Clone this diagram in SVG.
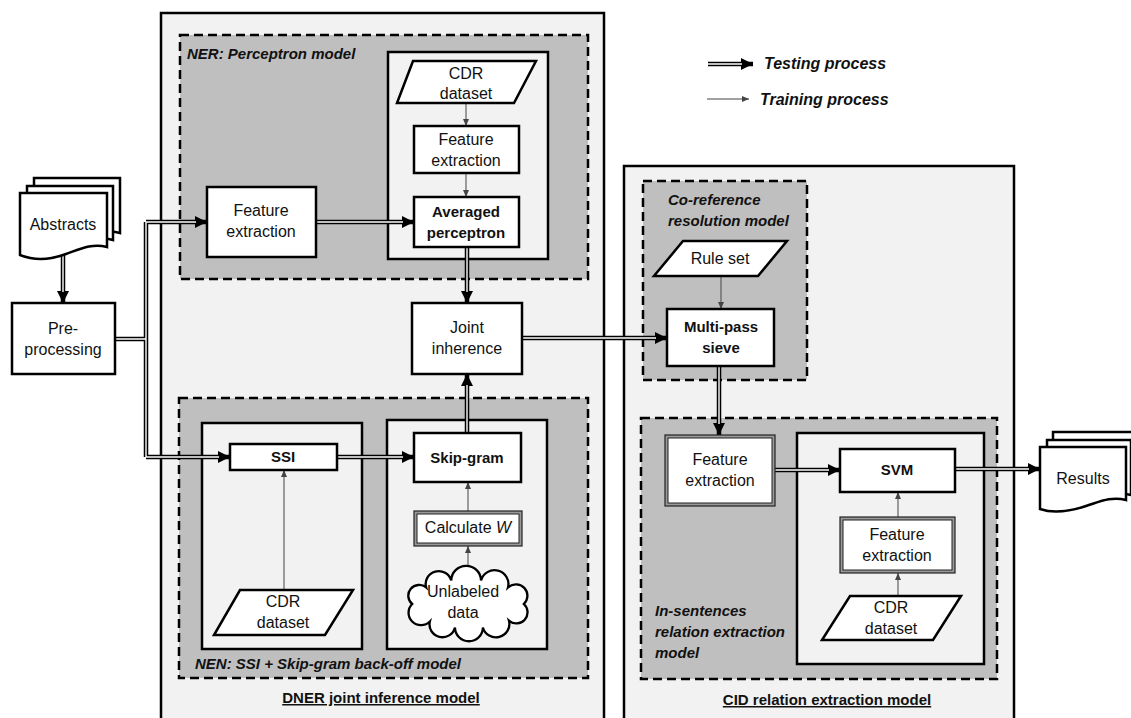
<svg xmlns="http://www.w3.org/2000/svg" width="1131" height="718" viewBox="0 0 1131 718">
<defs>
<style>
.t{font-family:"Liberation Sans",Arial,sans-serif;font-size:16px;fill:#111;text-anchor:middle}
.b{font-weight:bold;font-size:15px}
.bi{font-family:"Liberation Sans",Arial,sans-serif;font-weight:bold;font-style:italic;font-size:15px;fill:#111}
.u{font-family:"Liberation Sans",Arial,sans-serif;font-weight:bold;font-size:15px;fill:#111;text-anchor:middle;text-decoration:underline}
.node{fill:#fff;stroke:#000;stroke-width:2.5}
.frame{fill:#f2f2f2;stroke:#000;stroke-width:2.5}
.dash{fill:#bfbfbf;stroke:#000;stroke-width:2.5;stroke-dasharray:9 5}
.dbl{fill:none;stroke:#000;stroke-width:4.5}
.dblw{fill:none;stroke:#fff;stroke-width:1.4}
.thin{fill:none;stroke:#444;stroke-width:1;marker-end:url(#ta)}
.dd{fill:#999;stroke:#222;stroke-width:1.2}
.ddi{fill:#fff;stroke:#222;stroke-width:1}
</style>
<marker id="da" markerUnits="userSpaceOnUse" markerWidth="12" markerHeight="12" refX="12" refY="6" orient="auto"><path d="M0,0 L12,6 L0,12 z" fill="#000"/></marker>
<marker id="ta" markerUnits="userSpaceOnUse" markerWidth="7" markerHeight="6" refX="7" refY="3" orient="auto"><path d="M0,0 L7,3 L0,6 z" fill="#444"/></marker>
</defs>

<!-- frames -->
<g id="dner-frame">
<rect class="frame" x="161" y="13" width="443" height="720"/>
<text class="u" x="381" y="703">DNER joint inference model</text>
</g>
<g id="cid-frame">
<rect class="frame" x="624" y="166" width="390" height="570"/>
<text class="u" x="827" y="705">CID relation extraction model</text>
</g>

<g id="ner">
<rect class="dash" x="180" y="35" width="408" height="244"/>
<text class="bi" x="187" y="59">NER: Perceptron model</text>
<rect class="frame" x="388" y="52" width="160" height="207"/>
</g>

<g id="nen">
<rect class="dash" x="179" y="398" width="409" height="280"/>
<text class="bi" x="195" y="669">NEN: SSI + Skip-gram back-off model</text>
<rect class="frame" x="202" y="423" width="160" height="226"/>
<rect class="frame" x="387" y="420" width="160" height="229"/>
</g>

<g id="coref">
<rect class="dash" x="643" y="181" width="164" height="199"/>
<text class="bi" x="668" y="205">Co-reference</text>
<text class="bi" x="668" y="226">resolution model</text>
</g>

<g id="insent">
<rect class="dash" x="641" y="418" width="356" height="261"/>
<text class="bi" x="655" y="616">In-sentences</text>
<text class="bi" x="655" y="637">relation extraction</text>
<text class="bi" x="655" y="658">model</text>
<rect class="frame" x="797" y="433" width="187" height="231"/>
</g>

<!-- connectors -->
<g id="connectors">
<g>
<path class="dbl" d="M63,255 V303" marker-end="url(#da)"/>
<path class="dbl" d="M115,339 H146 M146,222 V457"/>
<path class="dbl" d="M146,222 H207" marker-end="url(#da)"/>
<path class="dbl" d="M146,457 H230" marker-end="url(#da)"/>
<path class="dbl" d="M316,222 H414" marker-end="url(#da)"/>
<path class="dbl" d="M467,247 V303" marker-end="url(#da)"/>
<path class="dbl" d="M467,433 V374" marker-end="url(#da)"/>
<path class="dbl" d="M337,457 H414" marker-end="url(#da)"/>
<path class="dbl" d="M522,338 H667" marker-end="url(#da)"/>
<path class="dbl" d="M719,366 V435" marker-end="url(#da)"/>
<path class="dbl" d="M775,470 H840" marker-end="url(#da)"/>
<path class="dbl" d="M955,469 H1040" marker-end="url(#da)"/>
<path class="dbl" d="M708,64 H753" marker-end="url(#da)"/>
</g>
<g>
<path class="dblw" d="M63,255 V292"/>
<path class="dblw" d="M115,339 H146 M146,222 V457"/>
<path class="dblw" d="M146,222 H196"/>
<path class="dblw" d="M146,457 H219"/>
<path class="dblw" d="M316,222 H403"/>
<path class="dblw" d="M467,247 V292"/>
<path class="dblw" d="M467,433 V385"/>
<path class="dblw" d="M337,457 H403"/>
<path class="dblw" d="M522,338 H656"/>
<path class="dblw" d="M719,366 V424"/>
<path class="dblw" d="M775,470 H829"/>
<path class="dblw" d="M955,469 H1029"/>
<path class="dblw" d="M708,64 H742"/>
</g>
<path class="thin" d="M466,103 V126"/>
<path class="thin" d="M466,173 V197"/>
<path class="thin" d="M721,276 V309"/>
<path class="thin" d="M284,590 V470"/>
<path class="thin" d="M468,570 V546"/>
<path class="thin" d="M468,511 V482"/>
<path class="thin" d="M898,596 V573"/>
<path class="thin" d="M898,517 V492"/>
<path class="thin" d="M707,99 H749"/>
</g>

<g id="legend">
<text class="bi" x="764" y="69" style="font-size:16px">Testing process</text>
<text class="bi" x="760" y="105" style="font-size:16px">Training process</text>
</g>

<g id="abstracts">
<path class="node" d="M34,178 H120 V233 C105,229 95,236 85,239 C70,244 50,246 34,240 Z" stroke-width="2"/>
<path class="node" d="M27,186 H113 V240 C98,236 88,243 78,246 C63,251 43,253 27,247 Z" stroke-width="2"/>
<path class="node" d="M20,193 H107 V247 C92,243 80,249 66,254 C50,260 35,261 20,255 Z" stroke-width="2"/>
<text class="t" x="63" y="230">Abstracts</text>
</g>

<g id="preprocessing">
<rect class="node" x="12" y="303" width="103" height="71"/>
<text class="t" x="63" y="334">Pre-</text>
<text class="t" x="63" y="355">processing</text>
</g>

<g id="ner-fe">
<rect class="node" x="207" y="187" width="109" height="70"/>
<text class="t" x="261" y="216">Feature</text>
<text class="t" x="261" y="237">extraction</text>
</g>

<g id="ner-cdr">
<path class="node" d="M413,61 H536 L514,103 H397 Z"/>
<text class="t" x="466" y="79">CDR</text>
<text class="t" x="466" y="99">dataset</text>
</g>

<g id="ner-fe2">
<rect class="node" x="414" y="126" width="105" height="47"/>
<text class="t" x="466" y="145">Feature</text>
<text class="t" x="466" y="166">extraction</text>
</g>

<g id="averaged-perceptron">
<rect class="node" x="414" y="197" width="105" height="50"/>
<text class="t b" x="466" y="217">Averaged</text>
<text class="t b" x="466" y="238">perceptron</text>
</g>

<g id="joint">
<rect class="node" x="412" y="303" width="110" height="71"/>
<text class="t" x="467" y="333">Joint</text>
<text class="t" x="467" y="354">inherence</text>
</g>

<g id="ssi">
<rect class="node" x="230" y="444" width="107" height="26"/>
<text class="t b" x="283" y="462">SSI</text>
</g>

<g id="nen-cdr">
<path class="node" d="M240,590 H353 L325,635 H214 Z"/>
<text class="t" x="283" y="607">CDR</text>
<text class="t" x="283" y="628">dataset</text>
</g>

<g id="skipgram">
<rect class="node" x="414" y="433" width="107" height="49"/>
<text class="t b" x="467" y="463">Skip-gram</text>
</g>

<g id="calcw">
<rect class="dd" x="414" y="511" width="108" height="35"/>
<rect class="ddi" x="417" y="514" width="102" height="29"/>
<text class="t" x="468" y="533">Calculate <tspan font-style="italic">W</tspan></text>
</g>

<g id="unlabeled">
<path class="node" stroke-width="2" transform="translate(468 604) scale(0.93 0.92) translate(-468 -604)" d="M528,604 A1,1 0 0 1 512,622 A1,1 0 0 1 484,629.5 A1,1 0 0 1 454,629.5 A1,1 0 0 1 427,623 A1,1 0 0 1 408,604 A1,1 0 0 1 423,586 A1,1 0 0 1 450,578.5 A1,1 0 0 1 482,578.5 A1,1 0 0 1 511,586 A1,1 0 0 1 528,604 Z"/>
<text class="t" x="463" y="597">Unlabeled</text>
<text class="t" x="463" y="618">data</text>
</g>

<g id="ruleset">
<path class="node" d="M683,241 H787 L758,276 H654 Z"/>
<text class="t" x="720" y="264">Rule set</text>
</g>

<g id="multipass">
<rect class="node" x="667" y="309" width="107" height="57"/>
<text class="t b" x="721" y="332">Multi-pass</text>
<text class="t b" x="721" y="353">sieve</text>
</g>

<g id="cid-fe">
<rect class="dd" x="665" y="435" width="110" height="71"/>
<rect class="ddi" x="668" y="438" width="104" height="65"/>
<text class="t" x="720" y="465">Feature</text>
<text class="t" x="720" y="486">extraction</text>
</g>

<g id="svm">
<rect class="node" x="840" y="449" width="115" height="43"/>
<text class="t b" x="897" y="475">SVM</text>
</g>

<g id="cid-fe2">
<rect class="dd" x="840" y="517" width="115" height="56"/>
<rect class="ddi" x="843" y="520" width="109" height="50"/>
<text class="t" x="897" y="540">Feature</text>
<text class="t" x="897" y="561">extraction</text>
</g>

<g id="cid-cdr">
<path class="node" d="M850,596 H961 L933,640 H822 Z"/>
<text class="t" x="891" y="613">CDR</text>
<text class="t" x="891" y="634">dataset</text>
</g>

<g id="results">
<path class="node" stroke-width="2" d="M1053,432 H1140 V490 C1125,486 1113,492 1100,496 C1085,501 1068,503 1053,498 Z"/>
<path class="node" stroke-width="2" d="M1047,440 H1131 V495 C1116,491 1105,497 1092,501 C1077,506 1060,508 1047,503 Z"/>
<path class="node" stroke-width="2" d="M1040,447 H1126 V500 C1111,496 1099,502 1086,506 C1071,511 1054,514 1040,509 Z"/>
<text class="t" x="1083" y="484">Results</text>
</g>
</svg>
